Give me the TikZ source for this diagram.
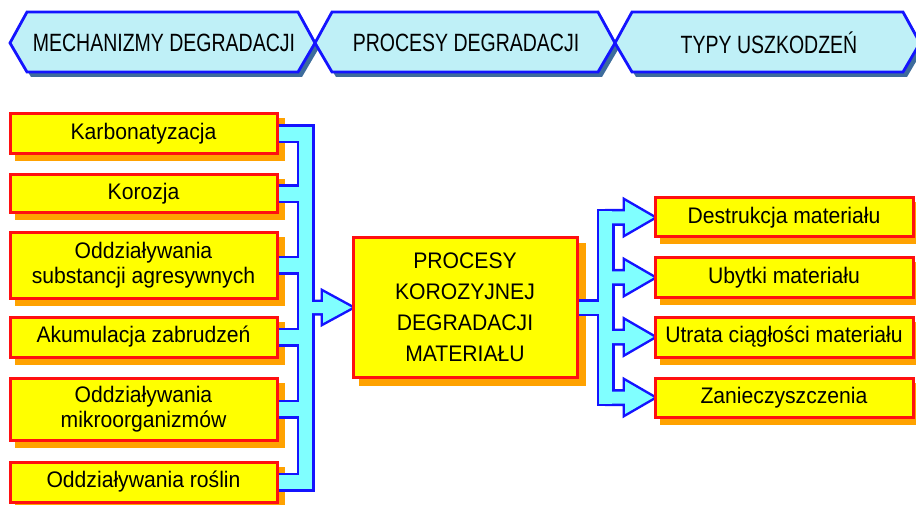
\documentclass[tikz,border=0pt]{standalone}
\usepackage{fontspec}
\setmainfont{Liberation Sans}
\newfontfamily\hdrfont{Liberation Sans}[FakeStretch=0.78]
\newfontfamily\boxfont{Liberation Sans}[FakeStretch=0.94]
\usetikzlibrary{calc}
\pgfdeclarelayer{bg}
\pgfdeclarelayer{mid}
\pgfsetlayers{bg,mid,main}
\definecolor{hfill}{HTML}{BFF0F7}
\definecolor{hshadow}{HTML}{3D6C9C}
\definecolor{blueline}{HTML}{1414FF}
\definecolor{boxyellow}{HTML}{FFFF00}
\definecolor{boxred}{HTML}{FF1010}
\definecolor{boxshadow}{HTML}{FFA200}
\definecolor{pipe}{HTML}{80FFFF}
\newcommand\bannerpath[2]{(#1,43) -- ({#1+17},12) -- ({#2-17},12) -- (#2,43) -- ({#2-17},72) -- ({#1+17},72) -- cycle}
\begin{document}
\begin{tikzpicture}[x=1pt,y=-1pt,
  box/.style={draw=boxred, line width=3pt, fill=boxyellow, inner sep=0pt, align=center,
    font=\boxfont\fontsize{22.5}{25}\selectfont},
  lbox/.style={box, minimum width=267pt},
  rbox/.style={box, minimum width=258pt},
  hdrtext/.style={font=\hdrfont\fontsize{25}{28}\selectfont, inner sep=0pt},
  banner/.style={draw=blueline, line width=2.8pt, fill=hfill},
  bannershadow/.style={fill=hshadow},
  pipeout/.style={draw=blueline, line width=5pt, fill=pipe},
  pipein/.style={fill=pipe}]
\useasboundingbox (0,0) rectangle (916,505);
\begin{pgfonlayer}{bg}
\fill[white] (0,0) rectangle (916,505);
\end{pgfonlayer}

% header banners
\foreach \a/\b in {10/315, 315/615, 615/920}{
  \fill[bannershadow, shift={(4,5)}] \bannerpath{\a}{\b};
}
\foreach \a/\b in {10/315, 315/615, 615/920}{
  \path[banner] \bannerpath{\a}{\b};
}
\node[hdrtext] (h1) at (164,43) {MECHANIZMY DEGRADACJI};
\node[hdrtext] (h2) at (466,43) {PROCESY DEGRADACJI};
\node[hdrtext] (h3) at (769,43) {TYPY USZKODZEŃ};

% left boxes
\node[lbox, minimum height=40pt] (k1) at (143.5,134) {Karbonatyzacja};
\node[lbox, minimum height=38pt] (k2) at (143.5,194) {Korozja};
\node[lbox, minimum height=65pt] (k3) at (143.5,265.5) {Oddziaływania\\substancji agresywnych};
\node[lbox, minimum height=40pt] (k4) at (143.5,337) {Akumulacja zabrudzeń};
\node[lbox, minimum height=62pt] (k5) at (143.5,409) {Oddziaływania\\mikroorganizmów};
\node[lbox, minimum height=40pt] (k6) at (143.5,482) {Oddziaływania roślin};

% centre box
\node[box, minimum width=224pt, minimum height=139pt,
  font=\boxfont\fontsize{22.5}{31}\selectfont] (c) at (465,307.5)
  {PROCESY\\KOROZYJNEJ\\DEGRADACJI\\MATERIAŁU};

% right boxes
\node[rbox, minimum height=39pt] (r1) at (784,217.5) {Destrukcja materiału};
\node[rbox, minimum height=39pt] (r2) at (784,277.5) {Ubytki materiału};
\node[rbox, minimum height=40pt] (r3) at (784,337) {Utrata ciągłości materiału};
\node[rbox, minimum height=39pt] (r4) at (784,397.5) {Zanieczyszczenia};

% box shadows
\begin{pgfonlayer}{bg}
  \foreach \n in {k1,k2,k3,k4,k5,k6,r1,r2,r3,r4}{
    \fill[boxshadow] ($(\n.north west)+(6,6)$) rectangle ($(\n.south east)+(6,6)$);
  }
  \fill[boxshadow] ($(c.north west)+(7,7)$) rectangle ($(c.south east)+(7,7)$);
\end{pgfonlayer}

% connectors (pipes)
\coordinate (LT) at (305.5,0);
\coordinate (RT) at (605.5,0);
\newcommand\pipeparts[1]{%
  \path[#1] ($(LT |- k1.east)+(-6.5,-7)$) rectangle ($(LT |- k6.east)+(6.5,7)$);
  \foreach \n in {k1,k2,k3,k4,k5,k6}{
    \path[#1] ($(\n.east)+(-6,-7)$) rectangle ($(LT |- \n.east)+(0,7)$);
  }
  \path[#1] ($(LT |- c.west)+(2,-5.5)$) -- ($(LT |- c.west)+(17.5,-5.5)$)
     -- ($(LT |- c.west)+(17.5,-15.5)$) -- (c.west)
     -- ($(LT |- c.west)+(17.5,15.5)$) -- ($(LT |- c.west)+(17.5,5.5)$)
     -- ($(LT |- c.west)+(2,5.5)$) -- cycle;
  \path[#1] ($(c.east)+(-6,-6)$) rectangle ($(RT |- c.east)+(0,6)$);
  \path[#1] ($(RT |- r1.west)+(-6.5,-6)$) rectangle ($(RT |- r4.west)+(6.5,6)$);
  \foreach \n in {r1,r2,r3,r4}{
    \path[#1] ($(RT |- \n.west)+(2,-6)$) -- ($(RT |- \n.west)+(19.5,-6)$)
       -- ($(RT |- \n.west)+(19.5,-16.5)$) -- (\n.west)
       -- ($(RT |- \n.west)+(19.5,16.5)$) -- ($(RT |- \n.west)+(19.5,6)$)
       -- ($(RT |- \n.west)+(2,6)$) -- cycle;
  }
}
\begin{pgfonlayer}{mid}
  \pipeparts{pipeout}
  \pipeparts{pipein}
\end{pgfonlayer}
\end{tikzpicture}
\end{document}
